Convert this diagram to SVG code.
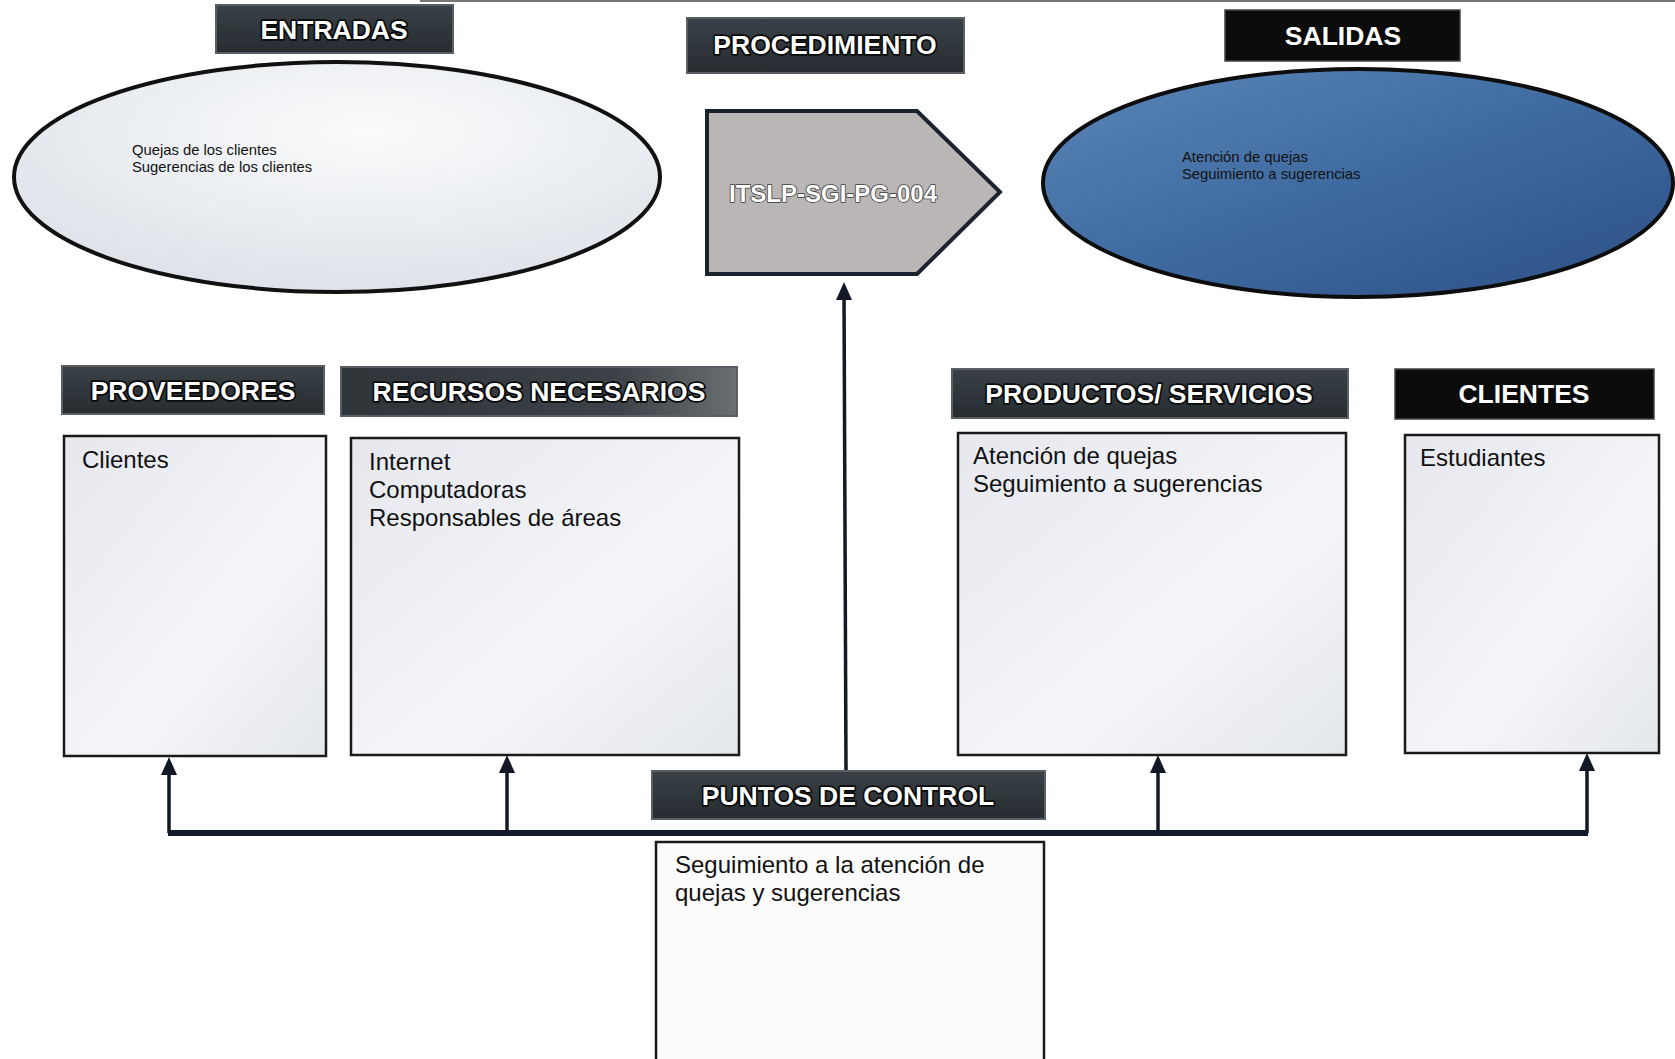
<svg xmlns="http://www.w3.org/2000/svg" width="1675" height="1059" viewBox="0 0 1675 1059">
<defs>
<style>
.hdr{stroke:#5a5f63;stroke-width:2}
.ht{font-family:"Liberation Sans",Arial,sans-serif;font-weight:bold;font-size:26.5px;fill:#fff;stroke:#0a0a0a;stroke-width:3.5;paint-order:stroke;stroke-linejoin:round;text-anchor:middle}
.box{fill:url(#boxg);stroke:#1a1a1a;stroke-width:2.5}
.bt{font-family:"Liberation Sans",Arial,sans-serif;font-size:24px;fill:#111}
.st{font-family:"Liberation Sans",Arial,sans-serif;font-size:14.8px;fill:#111}
.con{fill:none;stroke:#121826;stroke-width:3.5}
</style>
<linearGradient id="hdrg" x1="0" y1="0" x2="0" y2="1">
<stop offset="0" stop-color="#3a4247"/><stop offset="1" stop-color="#262c30"/>
</linearGradient>
<linearGradient id="hdrg2" x1="0" y1="0" x2="1" y2="0">
<stop offset="0" stop-color="#2e3438"/><stop offset="0.7" stop-color="#3c4247"/><stop offset="1" stop-color="#6b6f72"/>
</linearGradient>
<linearGradient id="boxg" x1="0" y1="0" x2="1" y2="1">
<stop offset="0" stop-color="#e6e8ee"/><stop offset="0.6" stop-color="#f4f5f8"/><stop offset="1" stop-color="#e4e7ec"/>
</linearGradient>
<radialGradient id="ellg" cx="0.55" cy="0.3" r="0.8">
<stop offset="0" stop-color="#fafbfc"/><stop offset="1" stop-color="#dadfe6"/>
</radialGradient>
<linearGradient id="blueg" x1="0" y1="0" x2="1" y2="1">
<stop offset="0" stop-color="#5a86b8"/><stop offset="0.5" stop-color="#3f6aa0"/><stop offset="1" stop-color="#2c4f85"/>
</linearGradient>
</defs>
<rect width="1675" height="1059" fill="#ffffff"/>
<line x1="420" y1="1" x2="1675" y2="1" stroke="#777" stroke-width="2"/>

<g id="connectors">
<path class="con" d="M846 770 L844 292"/>
<path d="M844 282 L852 300 L836 300 Z" fill="#121826"/>
<path d="M168 833 L1588 833" fill="none" stroke="#121a2c" stroke-width="6"/>
<path class="con" d="M169 833 L169 770"/>
<path d="M169 757 L177 775 L161 775 Z" fill="#121826"/>
<path class="con" d="M507 833 L507 768"/>
<path d="M507 755 L515 773 L499 773 Z" fill="#121826"/>
<path class="con" d="M1158 833 L1158 768"/>
<path d="M1158 755 L1166 773 L1150 773 Z" fill="#121826"/>
<path class="con" d="M1587 833 L1587 766"/>
<path d="M1587 753 L1595 771 L1579 771 Z" fill="#121826"/>
</g>

<g id="entradas">
<rect class="hdr" x="216" y="5" width="237" height="48" fill="url(#hdrg)"/>
<text class="ht" x="334" y="39">ENTRADAS</text>
</g>
<g id="entradas-ellipse">
<ellipse cx="337" cy="177" rx="323" ry="115" fill="url(#ellg)" stroke="#111" stroke-width="4"/>
<text class="st" x="132" y="155">Quejas de los clientes</text>
<text class="st" x="132" y="172">Sugerencias de los clientes</text>
</g>

<g id="procedimiento">
<rect class="hdr" x="687" y="18" width="277" height="55" fill="url(#hdrg)"/>
<text class="ht" x="825" y="54">PROCEDIMIENTO</text>
</g>
<g id="proc-arrow">
<path d="M707 111 L917 111 L1000 192 L917 274 L707 274 Z" fill="#bab6b5" stroke="#1c2230" stroke-width="4"/>
<text class="ht" x="833" y="202" style="font-size:24px;stroke:#3a3a3a;stroke-width:1.6">ITSLP-SGI-PG-004</text>
</g>

<g id="salidas">
<rect x="1225" y="10" width="235" height="51" fill="#0c0c0c" stroke="#444" stroke-width="1.5"/>
<text class="ht" x="1343" y="45">SALIDAS</text>
</g>
<g id="salidas-ellipse">
<ellipse cx="1358" cy="183" rx="315" ry="114" fill="url(#blueg)" stroke="#0d0d0d" stroke-width="4"/>
<text class="st" x="1182" y="162">Atención de quejas</text>
<text class="st" x="1182" y="179">Seguimiento a sugerencias</text>
</g>

<g id="proveedores">
<rect class="hdr" x="62" y="366" width="262" height="48" fill="url(#hdrg)"/>
<text class="ht" x="193" y="400">PROVEEDORES</text>
<rect class="box" x="64" y="436" width="262" height="320"/>
<text class="bt" x="82" y="468">Clientes</text>
</g>

<g id="recursos">
<rect class="hdr" x="341" y="367" width="396" height="49" fill="url(#hdrg2)"/>
<text class="ht" x="539" y="401">RECURSOS NECESARIOS</text>
<rect class="box" x="351" y="438" width="388" height="317"/>
<text class="bt" x="369" y="470">Internet</text>
<text class="bt" x="369" y="498">Computadoras</text>
<text class="bt" x="369" y="526">Responsables de áreas</text>
</g>

<g id="productos">
<rect class="hdr" x="952" y="369" width="396" height="49" fill="url(#hdrg)"/>
<text class="ht" x="1149" y="403">PRODUCTOS/ SERVICIOS</text>
<rect class="box" x="958" y="433" width="388" height="322"/>
<text class="bt" x="973" y="464">Atención de quejas</text>
<text class="bt" x="973" y="492">Seguimiento a sugerencias</text>
</g>

<g id="clientes">
<rect x="1395" y="369" width="259" height="50" fill="#0c0c0c" stroke="#444" stroke-width="1.5"/>
<text class="ht" x="1524" y="403">CLIENTES</text>
<rect class="box" x="1405" y="435" width="254" height="318"/>
<text class="bt" x="1420" y="466">Estudiantes</text>
</g>

<g id="puntos-de-control">
<rect class="hdr" x="652" y="771" width="393" height="48" fill="url(#hdrg)"/>
<text class="ht" x="848" y="805">PUNTOS DE CONTROL</text>
<rect class="box" x="656" y="842" width="388" height="230" style="fill:#fbfbfc"/>
<text class="bt" x="675" y="873">Seguimiento a la atención de</text>
<text class="bt" x="675" y="901">quejas y sugerencias</text>
</g>
</svg>
